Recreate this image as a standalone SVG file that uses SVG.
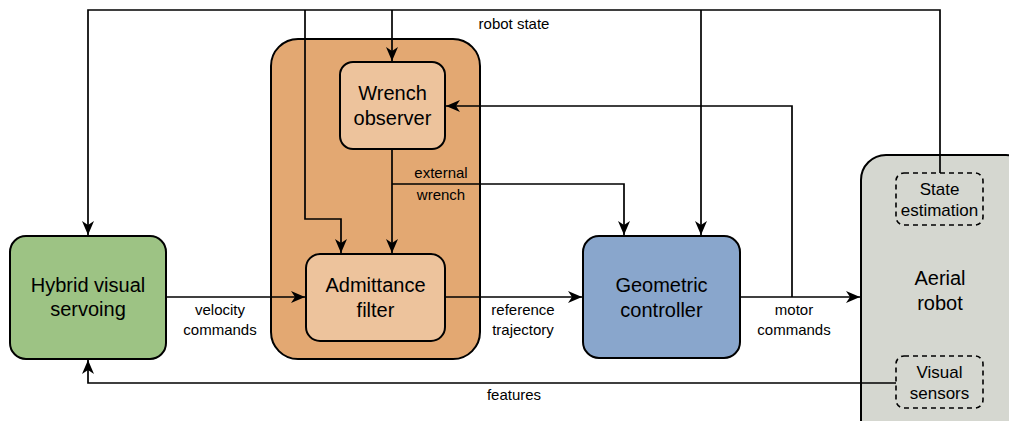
<svg xmlns="http://www.w3.org/2000/svg" width="1009" height="421" viewBox="0 0 1009 421">
<style>
.box{stroke:#000;stroke-width:2}
.dash{fill:none;stroke:#000;stroke-width:1.6;stroke-dasharray:5 4}
.t{font-family:"Liberation Sans",Arial,sans-serif;font-size:20px;fill:#000;text-anchor:middle}
.s{font-family:"Liberation Sans",Arial,sans-serif;font-size:17px;fill:#000;text-anchor:middle}
.l{font-family:"Liberation Sans",Arial,sans-serif;font-size:15px;fill:#000;text-anchor:middle}
.c{fill:none;stroke:#000;stroke-width:1.7}
</style>
<defs>
<marker id="arr" viewBox="0 0 14 12" refX="14" refY="6" markerWidth="14" markerHeight="12" markerUnits="userSpaceOnUse" orient="auto">
<path d="M0,0 L14,6 L0,12 L4,6 z" fill="#000"/>
</marker>
</defs>
<rect width="1009" height="421" fill="#fff"/>
<g id="admittance-container">
<rect class="box" x="271" y="39" width="209" height="320" rx="27" fill="#e3a872"/>
</g>
<g id="aerial-robot">
<rect class="box" x="861" y="155" width="170" height="300" rx="25" fill="#d5d7d0"/>
<text class="t" x="940" y="285">Aerial</text>
<text class="t" x="940" y="310">robot</text>
</g>
<g id="connectors">
<polyline class="c" points="940,173 940,10 88,10 88,235" marker-end="url(#arr)"/>
<polyline class="c" points="392,10 392,61" marker-end="url(#arr)"/>
<polyline class="c" points="305,10 305,219 341,219 341,253" marker-end="url(#arr)"/>
<polyline class="c" points="701,10 701,235" marker-end="url(#arr)"/>
<polyline class="c" points="392,149 392,253" marker-end="url(#arr)"/>
<polyline class="c" points="392,184 624,184 624,235" marker-end="url(#arr)"/>
<polyline class="c" points="792,297 792,106 446,106" marker-end="url(#arr)"/>
<polyline class="c" points="166,297 305,297" marker-end="url(#arr)"/>
<polyline class="c" points="445,297 582,297" marker-end="url(#arr)"/>
<polyline class="c" points="740,297 860,297" marker-end="url(#arr)"/>
<polyline class="c" points="896,383 88,383 88,360" marker-end="url(#arr)"/>
<text class="l" x="514" y="29">robot state</text>
<text class="l" x="441" y="178">external</text>
<text class="l" x="441" y="200">wrench</text>
<text class="l" x="220" y="315">velocity</text>
<text class="l" x="220" y="335">commands</text>
<text class="l" x="523" y="315">reference</text>
<text class="l" x="523" y="335">trajectory</text>
<text class="l" x="794" y="315">motor</text>
<text class="l" x="794" y="335">commands</text>
<text class="l" x="514" y="400">features</text>
</g>
<g id="hybrid-visual-servoing">
<rect class="box" x="10" y="236" width="156" height="123" rx="16" fill="#9dc384"/>
<text class="t" x="88" y="292">Hybrid visual</text>
<text class="t" x="88" y="316">servoing</text>
</g>
<g id="wrench-observer">
<rect class="box" x="340" y="62" width="105" height="87" rx="13" fill="#edc39c"/>
<text class="t" x="392.5" y="100">Wrench</text>
<text class="t" x="392.5" y="125">observer</text>
</g>
<g id="admittance-filter">
<rect class="box" x="306" y="254" width="139" height="87" rx="14" fill="#edc39c"/>
<text class="t" x="375.5" y="292">Admittance</text>
<text class="t" x="375.5" y="317">filter</text>
</g>
<g id="geometric-controller">
<rect class="box" x="583" y="236" width="157" height="122" rx="16" fill="#89a6cc"/>
<text class="t" x="661.5" y="292">Geometric</text>
<text class="t" x="661.5" y="317">controller</text>
</g>
<g id="state-estimation">
<rect class="dash" x="896" y="173" width="87" height="52" rx="8"/>
<text class="s" x="939.5" y="195">State</text>
<text class="s" x="939.5" y="216">estimation</text>
</g>
<g id="visual-sensors">
<rect class="dash" x="896" y="356" width="87" height="52" rx="8"/>
<text class="s" x="939.5" y="378">Visual</text>
<text class="s" x="939.5" y="399">sensors</text>
</g>
</svg>
